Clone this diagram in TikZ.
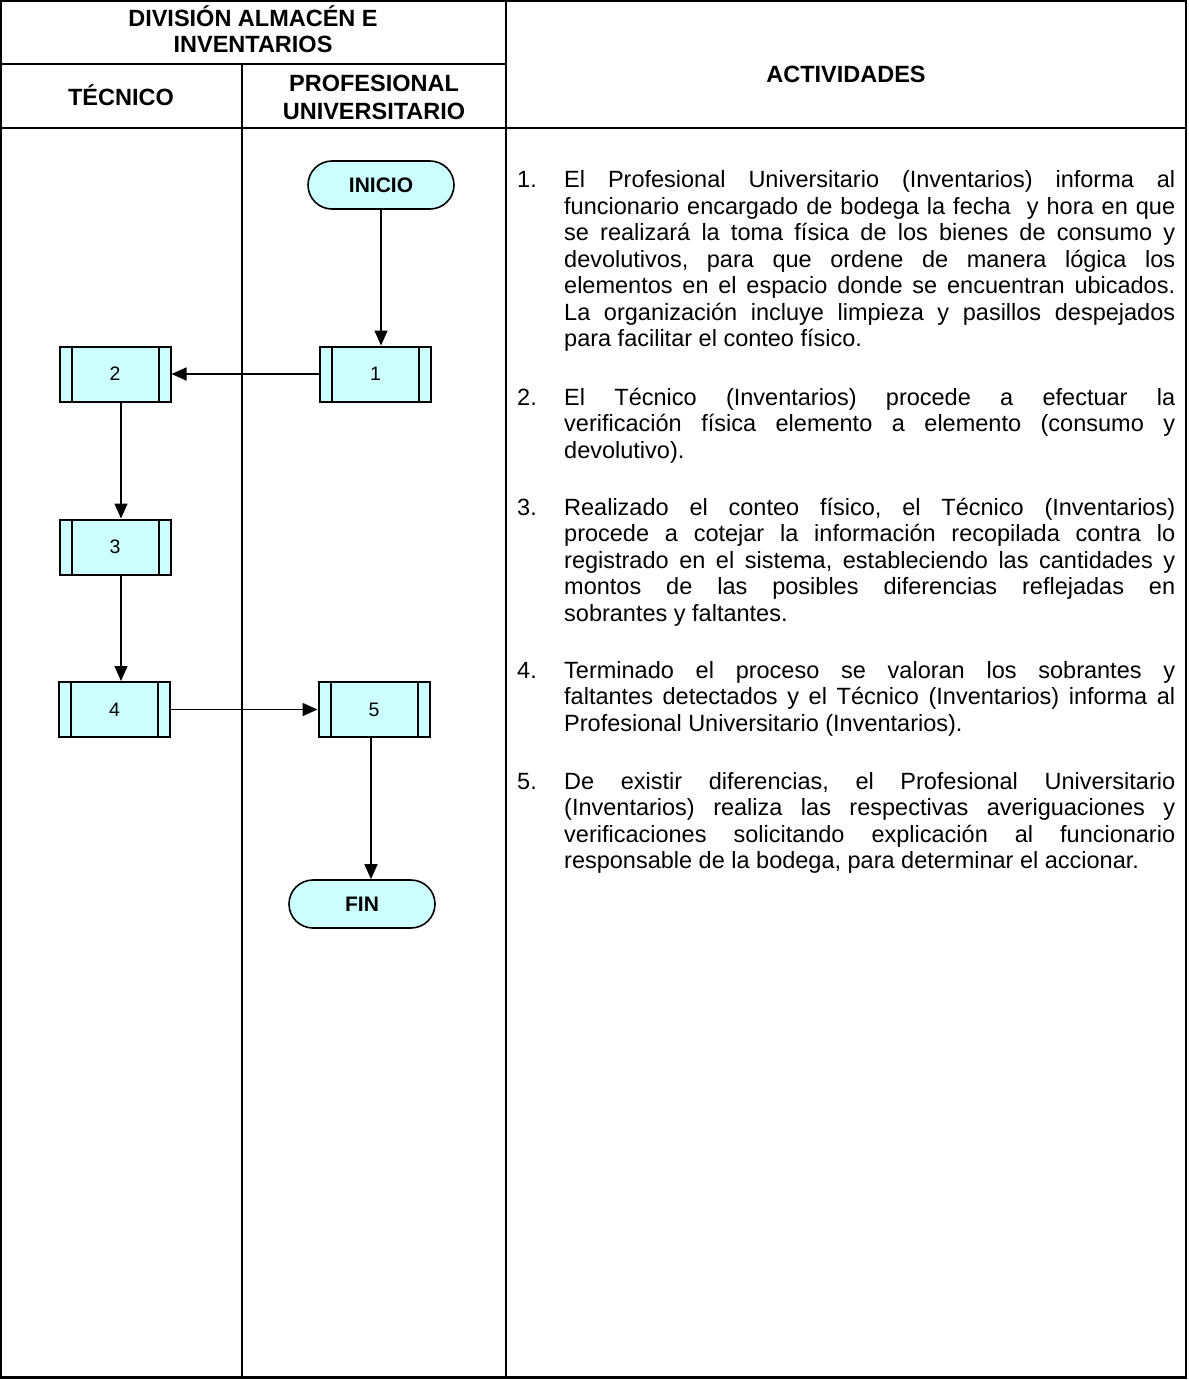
\documentclass[tikz,border=0pt]{standalone}
\usepackage{fontspec}
\setmainfont{Liberation Sans}
\usetikzlibrary{arrows.meta}
\definecolor{boxfill}{HTML}{CCFFFF}
\newcommand{\bodyfont}{\fontsize{23.5}{26.5}\selectfont}
\newcommand{\headfont}{\fontsize{23.5}{28}\selectfont\bfseries}
\newcommand{\acttext}[1]{\parbox[t]{611pt}{\bodyfont\frenchspacing\tolerance=10000\hbadness=10000\relax #1}}
\begin{document}
\begin{tikzpicture}[x=1pt,y=-1pt,
  tbl/.style={line width=2.2pt},
  head/.style={anchor=base, inner sep=0pt, font=\headfont},
  actnum/.style={anchor=base west, inner sep=0pt, font=\bodyfont},
  acttxt/.style={anchor=base west, inner sep=0pt},
  term/.style={draw, fill=boxfill, line width=1.6pt, rounded corners=24pt,
    minimum width=146pt, minimum height=48pt, inner sep=0pt,
    font=\fontsize{21}{24}\selectfont\bfseries},
  subp/.style={draw, fill=boxfill, line width=2pt,
    minimum width=111pt, minimum height=55pt, inner sep=0pt,
    font=\fontsize{19.5}{22}\selectfont},
  inner/.style={line width=2pt},
  flow/.style={line width=1.5pt, -{Triangle[length=15pt,width=13pt]}}
]
\useasboundingbox (0,0) rectangle (1188,1380);

% table frame
\draw[tbl] (1.2,1.2) rectangle (1186,1377.5);
\draw[tbl] (1.2,64) -- (506,64);
\draw[tbl] (1.2,128) -- (1186,128);
\draw[tbl] (242,64) -- (242,1377.5);
\draw[tbl] (506,1.2) -- (506,1377.5);

% headers
\node[head] (hdiv1) at (253,27) {DIVISIÓN ALMACÉN E};
\node[head] (hdiv2) at (253,53) {INVENTARIOS};
\node[head] (htec) at (121,106) {TÉCNICO};
\node[head] (hpro1) at (374,92) {PROFESIONAL};
\node[head] (hpro2) at (374,120) {UNIVERSITARIO};
\node[head] (hact) at (846,83) {ACTIVIDADES};

% flow nodes
\node[term] (ini) at (381,185) {INICIO};
\node[subp] (b1) at (375.5,374) {1};
\node[subp] (b2) at (115,374) {2};
\node[subp] (b3) at (115,547) {3};
\node[subp] (b4) at (114.5,709.5) {4};
\node[subp] (b5) at (374,709.5) {5};
\node[term] (fin) at (362,904) {FIN};

\foreach \n in {b1,b2,b3,b4,b5}{
  \draw[inner] ([xshift=13pt]\n.north west) -- ([xshift=13pt]\n.south west);
  \draw[inner] ([xshift=-13pt]\n.north east) -- ([xshift=-13pt]\n.south east);
}

% connectors
\coordinate (vx) at (121,0);
\coordinate (fx) at (371,0);
\draw[flow] (ini.south) -- (ini.south |- b1.north);
\draw[flow] (b1.west) -- (b2.east);
\draw[flow] (b2.south -| vx) -- (b3.north -| vx);
\draw[flow] (b3.south -| vx) -- (b4.north -| vx);
\draw[flow] (b4.east) -- (b5.west);
\draw[flow] (b5.south -| fx) -- (fin.north -| fx);

% activities
\node[actnum] (n1) at (517,188) {1.};
\node[acttxt] (t1) at (564,188) {\acttext{El Profesional Universitario (Inventarios) informa al\linebreak
funcionario encargado de bodega la fecha\ \ y hora en que\linebreak
se realizará la toma física de los bienes de consumo y\linebreak
devolutivos, para que ordene de manera lógica los\linebreak
elementos en el espacio donde se encuentran ubicados.\linebreak
La organización incluye limpieza y pasillos despejados\linebreak
para facilitar el conteo físico.}};

\node[actnum] (n2) at (517,405) {2.};
\node[acttxt] (t2) at (564,405) {\acttext{El Técnico (Inventarios) procede a efectuar la\linebreak
verificación física elemento a elemento (consumo y\linebreak
devolutivo).}};

\node[actnum] (n3) at (517,515) {3.};
\node[acttxt] (t3) at (564,515) {\acttext{Realizado el conteo físico, el Técnico (Inventarios)\linebreak
procede a cotejar la información recopilada contra lo\linebreak
registrado en el sistema, estableciendo las cantidades y\linebreak
montos de las posibles diferencias reflejadas en\linebreak
sobrantes y faltantes.}};

\node[actnum] (n4) at (517,678) {4.};
\node[acttxt] (t4) at (564,678) {\acttext{Terminado el proceso se valoran los sobrantes y\linebreak
faltantes detectados y el Técnico (Inventarios) informa al\linebreak
Profesional Universitario (Inventarios).}};

\node[actnum] (n5) at (517,789) {5.};
\node[acttxt] (t5) at (564,789) {\acttext{De existir diferencias, el Profesional Universitario\linebreak
(Inventarios) realiza las respectivas averiguaciones y\linebreak
verificaciones solicitando explicación al funcionario\linebreak
responsable de la bodega, para determinar el accionar.}};
\end{tikzpicture}
\end{document}
